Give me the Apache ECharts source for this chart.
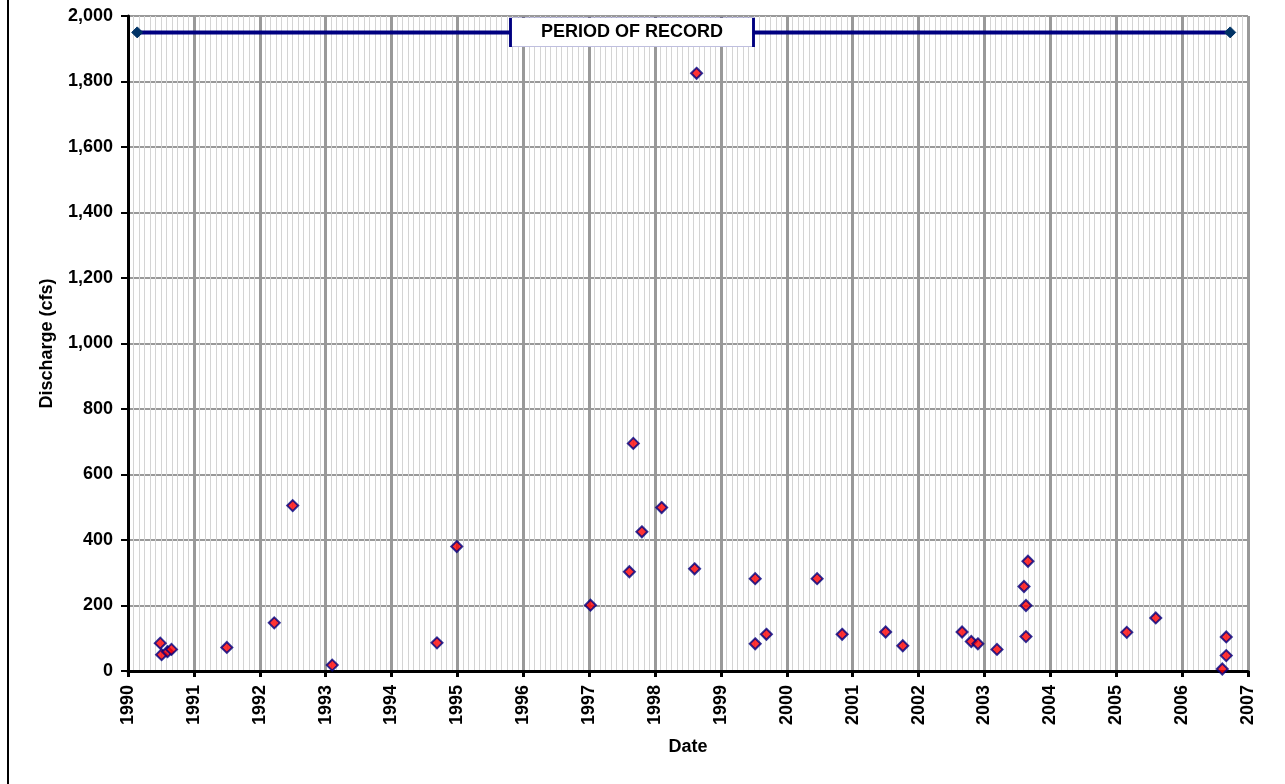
<!DOCTYPE html>
<html>
<head>
<meta charset="utf-8">
<script src="https://cdn.jsdelivr.net/npm/echarts@6/dist/echarts.min.js"></script>
<style>
html,body{margin:0;padding:0;background:#fff;}
#chart{width:1285px;height:784px;}
</style>
</head>
<body>
<div id="chart"></div>
<script>
// Sample dates (decimal years) and discharge (cfs)
var sampleDates = [1990.49, 1990.51, 1990.60, 1990.66, 1991.50, 1992.22, 1992.50, 1993.10, 1994.69, 1994.99,
  1997.02, 1997.61, 1997.67, 1997.80, 1998.10, 1998.60, 1998.63, 1999.52, 1999.52, 1999.69,
  2000.46, 2000.84, 2001.50, 2001.76, 2002.66, 2002.80, 2002.90, 2003.19, 2003.60, 2003.63,
  2003.63, 2003.66, 2005.16, 2005.60, 2006.61, 2006.67, 2006.67];
var dischargeValues = [85, 50, 59, 66, 72, 147, 505, 18, 86, 380,
  201, 303, 695, 425, 499, 312, 1825, 282, 83, 112,
  282, 112, 119, 77, 119, 90, 83, 66, 258, 200,
  105, 335, 118, 162, 6, 47, 104];
// Period of record
var recordDates = [1990.14, 2006.73];
var recordValues = [1950, 1950];
var recordLabel = 'PERIOD OF RECORD';
var xMin = 1990, xMax = 2007, yMin = 0, yMax = 2000;

var FONT = '"Liberation Sans", Arial, sans-serif';
var chart = echarts.init(document.getElementById('chart'), null, {renderer: 'canvas'});
var samples = sampleDates.map(function (d, i) { return [d, dischargeValues[i]]; });
var record = recordDates.map(function (d, i) { return [d, recordValues[i]]; });

chart.setOption({
  animation: false,
  backgroundColor: '#ffffff',
  grid: {left: 128, right: 37, top: 16, bottom: 113, show: false},
  xAxis: {
    type: 'value', min: xMin, max: xMax, interval: 1,
    name: 'Date', nameLocation: 'middle', nameGap: 67,
    nameTextStyle: {fontFamily: FONT, fontWeight: 'bold', fontSize: 18, color: '#000'},
    axisLine: {show: true, onZero: false, lineStyle: {color: '#000', width: 3}},
    axisTick: {show: true, length: 6, lineStyle: {color: '#000', width: 3}},
    axisLabel: {rotate: 90, margin: 14, fontFamily: FONT, fontWeight: 'bold', fontSize: 18, color: '#000',
      formatter: function (v) { return String(v); }},
    splitLine: {show: true, lineStyle: {color: '#999999', width: 3}},
    minorTick: {show: false, splitNumber: 12},
    minorSplitLine: {show: true, lineStyle: {color: '#d4d4d4', width: 1}}
  },
  yAxis: {
    type: 'value', min: yMin, max: yMax, interval: 200,
    name: 'Discharge (cfs)', nameLocation: 'middle', nameGap: 72,
    nameTextStyle: {fontFamily: FONT, fontWeight: 'bold', fontSize: 18, color: '#000'},
    axisLine: {show: true, lineStyle: {color: '#000', width: 3}},
    axisTick: {show: true, length: 7, lineStyle: {color: '#000', width: 2}},
    axisLabel: {margin: 15, fontFamily: FONT, fontWeight: 'bold', fontSize: 18, color: '#000',
      formatter: function (v) { return v.toLocaleString('en-US'); }},
    splitLine: {show: true, lineStyle: {color: '#999999', width: 2}}
  },
  series: [
    {
      type: 'line', data: record, symbol: 'diamond', symbolSize: 11, showSymbol: true,
      lineStyle: {color: '#000080', width: 4},
      itemStyle: {color: '#003366', borderColor: '#003366'},
      z: 3,
      markPoint: {
        symbol: 'rect', symbolSize: [243, 29],
        itemStyle: {color: '#ffffff', borderColor: '#000080', borderWidth: 1},
        label: {show: true, position: 'inside', formatter: recordLabel, fontFamily: FONT,
          fontWeight: 'bold', fontSize: 18, color: '#000'},
        data: [{coord: [1997.65, 1950]}]
      }
    },
    {
      type: 'scatter', data: samples, symbol: 'diamond', symbolSize: 11,
      itemStyle: {color: '#ff0000', borderColor: '#000080', borderWidth: 2},
      z: 4
    }
  ],
  graphic: [{
    type: 'line', shape: {x1: 8, y1: 0, x2: 8, y2: 784},
    style: {stroke: '#000', lineWidth: 2}, silent: true
  }]
});
</script>
</body>
</html>
